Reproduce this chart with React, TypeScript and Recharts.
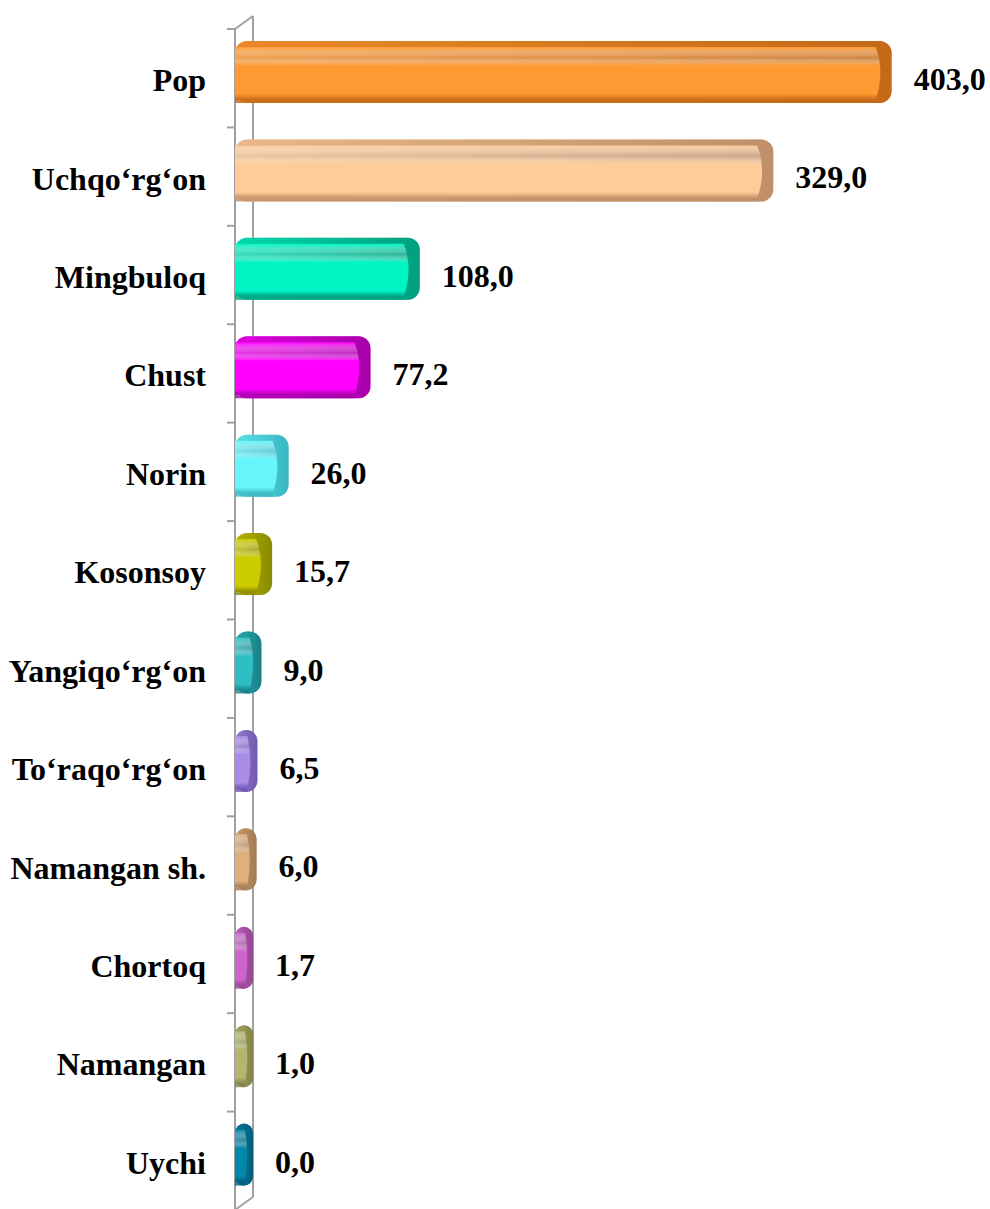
import { BarChart, Bar, XAxis, YAxis, LabelList, Customized } from 'recharts';

const districts = [
  'Pop',
  'Uchqo‘rg‘on',
  'Mingbuloq',
  'Chust',
  'Norin',
  'Kosonsoy',
  'Yangiqo‘rg‘on',
  'To‘raqo‘rg‘on',
  'Namangan sh.',
  'Chortoq',
  'Namangan',
  'Uychi',
];
const values = [403.0, 329.0, 108.0, 77.2, 26.0, 15.7, 9.0, 6.5, 6.0, 1.7, 1.0, 0.0];

// [front face, darker side]
const colors = [
  ['#FF9A33', '#C46A18'],
  ['#FFCC99', '#C09068'],
  ['#00F5C4', '#00A07E'],
  ['#FF00FF', '#A800A8'],
  ['#66F5FA', '#3AB8C4'],
  ['#CCCC00', '#8A8A00'],
  ['#2EBFC4', '#1A8088'],
  ['#A98BE8', '#7258B0'],
  ['#DDB07E', '#A27A52'],
  ['#CC66CC', '#944894'],
  ['#B5B56E', '#838348'],
  ['#0088AA', '#005E7A'],
];

const data = districts.map((name, i) => ({ name, value: values[i] }));

const W = 990;
const H = 1215;
const MARGIN = { top: 29, right: 0, bottom: 5, left: 0 };
const AXIS_W = 235;
const BAND = (H - MARGIN.top - MARGIN.bottom) / districts.length;
const DX = 18;
const DY = -13;
const FONT = '"Liberation Serif", "Times New Roman", serif';

const fmt = (v: number) => v.toFixed(1).replace('.', ',');

const barExtent = (w: number) => Math.max(w + 12, 18);

const Bar3D = (props: any) => {
  const { x, y, width, height, index } = props;
  const [main, dark] = colors[index];
  const bw = barExtent(width);
  const y0 = y - 6;
  const h = height;
  const r = Math.min(12, bw / 2);
  const cap = Math.min(16, bw * 0.45);
  const fx = x + bw - cap;
  const id = `g${index}`;
  return (
    <g>
      <defs>
        <linearGradient id={`${id}v`} x1="0" y1="0" x2="0" y2="1">
          <stop offset="0%" stopColor={main} />
          <stop offset="20%" stopColor="#ffffff" stopOpacity={0.18} />
          <stop offset="35%" stopColor={main} />
          <stop offset="88%" stopColor={main} />
          <stop offset="100%" stopColor={dark} />
        </linearGradient>
        <linearGradient id={`${id}h`} x1="0" y1="0" x2="1" y2="0">
          <stop offset="0%" stopColor={main} />
          <stop offset="100%" stopColor={dark} />
        </linearGradient>
      </defs>
      <rect x={x} y={y0} width={bw} height={h} rx={r} ry={r} fill={`url(#${id}h)`} />
      <rect x={x} y={y0} width={bw} height={h} rx={r} ry={r} fill={dark} opacity={0.35} />
      <path
        d={`M${x},${y0 + 6} L${fx},${y0 + 6} Q${fx + cap * 0.6},${y0 + h / 2} ${fx},${y0 + h - 3} L${x},${y0 + h - 3} Z`}
        fill={`url(#${id}v)`}
      />
      <rect x={x} y={y0 + h - 3} width={Math.max(fx - x, 0)} height={3} fill={dark} opacity={0.8} />
    </g>
  );
};

const ValueLabel = (props: any) => {
  const { x, y, width, height, value } = props;
  return (
    <text
      x={x + barExtent(width) + 22}
      y={y + height / 2 + 12}
      fontFamily={FONT}
      fontWeight="bold"
      fontSize={32}
      fill="#000"
      textAnchor="start"
    >
      {fmt(Number(value))}
    </text>
  );
};

const CategoryTick = (props: any) => {
  const { x, y, payload, index } = props;
  const left = AXIS_W;
  return (
    <g>
      <line x1={left - 8} y1={y - BAND / 2} x2={left} y2={y - BAND / 2} stroke="#A0A0A0" strokeWidth={2} />
      {index === districts.length - 1 && (
        <line x1={left - 8} y1={y + BAND / 2} x2={left} y2={y + BAND / 2} stroke="#A0A0A0" strokeWidth={2} />
      )}
      <text
        x={x - 21}
        y={y + 13}
        textAnchor="end"
        fontFamily={FONT}
        fontWeight="bold"
        fontSize={32}
        fill="#000"
      >
        {payload.value}
      </text>
    </g>
  );
};

const Wall = () => {
  const l = AXIS_W;
  const t = MARGIN.top;
  const b = H - MARGIN.bottom;
  const s = { stroke: '#A0A0A0', strokeWidth: 2 };
  return (
    <g>
      <line x1={l} y1={t} x2={l} y2={b} {...s} />
      <line x1={l + DX} y1={t + DY} x2={l + DX} y2={b + DY} {...s} />
      <line x1={l} y1={t} x2={l + DX} y2={t + DY} {...s} />
      <line x1={l} y1={b} x2={l + DX} y2={b + DY} {...s} />
    </g>
  );
};

export default function App() {
  return (
    <div style={{ position: 'absolute', left: 0, top: 0, width: W, height: H, background: '#fff' }}>
      <BarChart width={W} height={H} data={data} layout="vertical" margin={MARGIN} barSize={62}>
        <Customized component={<Wall />} />
        <XAxis type="number" domain={[0, 472]} hide />
        <YAxis
          type="category"
          dataKey="name"
          width={AXIS_W}
          axisLine={false}
          tickLine={false}
          tickMargin={0}
          tickSize={8}
          interval={0}
          tick={<CategoryTick />}
        />
        <Bar dataKey="value" isAnimationActive={false} shape={<Bar3D />} minPointSize={1}>
          <LabelList dataKey="value" content={<ValueLabel />} />
        </Bar>
      </BarChart>
    </div>
  );
}
